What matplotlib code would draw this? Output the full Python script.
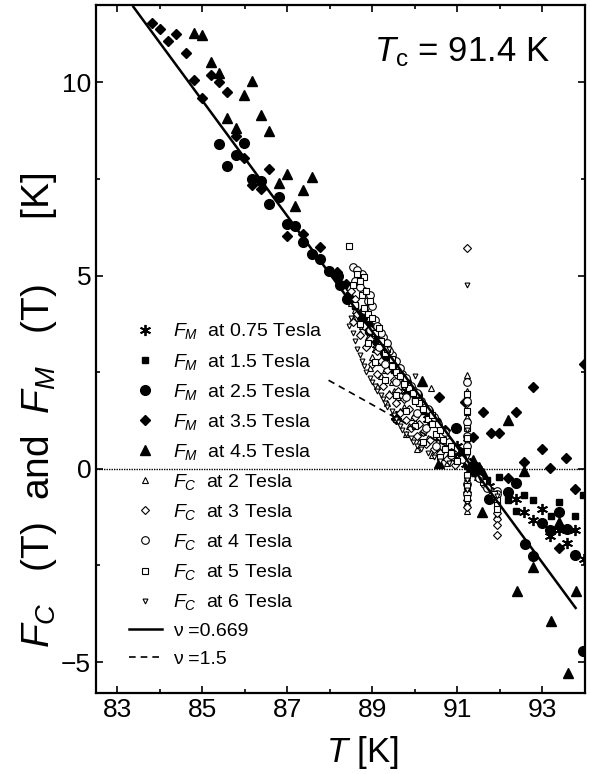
import matplotlib
matplotlib.use('Agg')
import matplotlib.pyplot as plt

plt.rcParams['font.family'] = ['Liberation Sans', 'DejaVu Sans']
plt.rcParams['mathtext.fontset'] = 'custom'
plt.rcParams['mathtext.rm'] = 'Liberation Sans'
plt.rcParams['mathtext.it'] = 'Liberation Sans:italic'

# F_M at 0.75 Tesla (stars)
fm075_T = [89.56, 90.93, 91.0, 91.2, 91.35, 91.55, 91.75, 89.1, 89.8, 90.3, 90.6,
           92.37, 92.57, 92.77, 92.98, 93.17, 93.38, 93.57, 93.77, 93.98]
fm075_F = [1.36, 0.33, 0.59, 0.12, -0.05, -0.25, -0.45, 3.1, 2.0, 1.3, 0.8,
           -0.78, -1.11, -1.32, -1.04, -1.75, -1.59, -1.92, -1.59, -2.34]

# F_M at 1.5 Tesla (squares)
fm15_T = [88.45, 88.9, 89.3, 89.75, 90.2, 90.57, 90.95, 91.3, 91.5, 91.7,
          88.6, 89.1, 89.5, 90.0, 90.4, 90.8, 91.1, 91.4,
          91.97, 92.18, 92.57, 92.38, 92.78, 93.38, 93.2, 93.77, 93.96]
fm15_F = [4.5, 3.6, 2.9, 2.2, 1.5, 0.81, 0.45, 0.05, -0.05, -0.3,
          4.2, 3.3, 2.55, 1.8, 1.2, 0.6, 0.25, -0.05,
          -0.22, -0.80, -0.67, -1.08, -0.80, -0.87, -1.23, -1.23, -0.67]

# F_M at 2.5 Tesla (circles)
fm25_T = [85.39, 85.98, 85.79, 85.59, 86.18, 86.39, 86.58, 86.8, 86.99, 87.19,
          87.38, 87.58, 87.77, 87.97, 88.19,
          88.4, 88.75, 89.1, 89.55, 90.05, 90.5, 90.96, 91.25, 91.45,
          88.25, 88.9, 89.3, 89.8, 90.3, 91.1, 91.5,
          91.75, 92.18, 92.37, 92.98, 93.17, 93.38, 93.57, 92.59, 92.78, 93.77, 93.96]
fm25_F = [8.41, 8.43, 8.11, 7.83, 7.49, 7.45, 6.85, 7.02, 6.33, 6.27,
          5.86, 5.56, 5.43, 5.11, 5.0,
          4.4, 3.9, 3.3, 2.6, 1.9, 1.2, 1.06, 0.1, -0.05,
          4.75, 3.7, 3.0, 2.25, 1.5, 0.4, -0.15,
          -0.78, -0.61, -0.38, -1.41, -1.59, -1.11, -1.55, -1.94, -2.26, -2.22, -4.72]

# F_M at 3.5 Tesla (diamonds)
fm35_T = [83.81, 84.0, 84.2, 84.39, 84.61, 84.8, 85.0, 85.2, 85.39, 85.59,
          85.79, 85.98, 86.58, 86.18, 86.39, 86.99, 87.38, 87.77,
          88.17, 88.38, 88.7, 89.2, 89.56, 90.57, 91.18, 91.37, 91.0, 91.3,
          88.5, 88.95, 89.45, 89.95, 90.35, 90.7, 91.45,
          92.78, 91.59, 92.37, 91.79, 91.98, 92.98, 93.56, 92.57, 93.17, 92.18,
          93.77, 93.38, 93.98]
fm35_F = [11.53, 11.39, 11.06, 11.24, 10.75, 10.06, 9.59, 10.19, 10.0, 9.74,
          8.62, 8.05, 7.75, 7.33, 7.23, 6.02, 6.07, 5.73,
          5.09, 4.79, 4.0, 3.2, 1.30, 1.85, 1.73, 0.82, 0.5, 0.15,
          4.4, 3.5, 2.6, 1.95, 1.35, 1.0, 0.05,
          2.11, 1.47, 1.47, 0.92, 0.92, 0.51, 0.28, 0.18, 0.01, -0.24,
          -0.52, -2.05, 2.72]

# F_M at 4.5 Tesla (triangles)
fm45_T = [84.81, 85.0, 85.2, 85.39, 86.18, 85.98, 85.59, 85.79, 86.39, 86.58,
          86.99, 86.8, 87.58, 87.38, 87.19,
          90.17, 90.57, 91.37, 91.3, 91.5, 91.45, 91.6,
          92.18, 92.57, 91.58, 93.38, 92.39, 92.78, 93.78, 93.2, 93.59]
fm45_F = [11.28, 11.22, 10.53, 10.25, 10.04, 9.66, 9.07, 8.82, 9.14, 8.73,
          7.63, 7.39, 7.56, 7.21, 6.80,
          2.26, 0.16, 0.23, 0.0, 0.05, -0.05, -0.1,
          1.25, -0.05, -1.12, -1.38, -3.15, -2.55, -3.15, -3.95, -5.28]

# F_C at 2 Tesla (open triangles)
fc2_T = [88.45, 88.5, 88.55, 88.7, 88.85, 89.0, 88.95, 89.2, 89.1, 89.4,
         89.35, 89.65, 89.55, 89.85, 89.8, 90.1, 90.05, 90.4, 90.38, 90.75,
         88.6, 88.75, 88.9, 89.05, 89.15, 89.3, 89.45, 89.5, 89.6, 89.75,
         89.95, 90.0, 90.2, 90.3, 90.5, 90.6, 90.9,
         91.22, 91.22, 91.22, 91.22, 91.22, 91.22, 91.22, 91.22, 91.22, 91.22,
         91.45, 91.8, 91.94, 91.94]
fc2_F = [4.7, 4.3, 3.9, 3.5, 3.2, 2.9, 2.6, 2.4, 2.15, 1.95,
         1.7, 1.5, 1.3, 1.1, 0.9, 0.7, 0.5, 0.35, 2.09, 0.15,
         4.1, 3.7, 3.4, 3.1, 2.75, 2.55, 2.25, 2.0, 1.85, 1.6,
         1.35, 1.2, 0.95, 0.8, 0.55, 0.45, 0.3,
         2.42, 1.48, 1.35, 0.9, -0.2, -1.08, 2.0, 0.55, -0.5, -0.85,
         -0.2, -0.6, -1.08, -1.2]

# F_C at 3 Tesla (open diamonds)
fc3_T = [88.6, 88.65, 88.8, 88.95, 89.1, 89.2, 89.35, 89.5, 89.6, 89.75,
         89.85, 90.0, 90.1, 90.2, 90.35, 90.45, 90.75,
         88.5, 88.55, 88.7, 88.85, 89.0, 89.1, 89.25, 89.4, 89.55, 89.65,
         89.8, 89.9, 90.05, 90.25, 90.6, 90.95,
         91.22, 91.22, 91.22, 91.22, 91.22, 91.22, 91.22,
         91.65, 91.9, 91.94, 91.94, 91.94, 91.94]
fc3_F = [4.4, 4.0, 3.7, 3.35, 3.05, 2.8, 2.55, 2.3, 2.0, 1.8,
         1.55, 1.35, 1.15, 0.95, 0.75, 0.5, 0.25,
         4.6, 3.8, 3.45, 3.15, 2.7, 2.45, 2.15, 1.9, 1.7, 1.45,
         1.25, 1.05, 0.85, 0.65, 0.4, 0.1,
         5.71, 0.75, -0.8, -1.0, 1.7, 0.2, -0.6,
         -0.45, -0.75, -1.3, -1.46, -1.72, -1.15]

# F_C at 4 Tesla (open circles)
fc4_T = [88.55, 88.75, 88.6, 88.8, 88.9, 88.8, 89.05, 88.95, 89.25, 89.15,
         89.45, 89.3, 89.7, 89.55, 89.95, 89.8, 90.2, 90.05, 90.4, 90.25,
         90.6, 90.5, 90.85,
         88.65, 88.7, 88.95, 89.0, 89.1, 89.2, 89.35, 89.4, 89.55, 89.65,
         89.8, 89.9, 90.05, 90.15, 90.3, 90.45, 90.55, 90.7, 90.8, 90.95, 91.1,
         91.22, 91.22, 91.22, 91.22, 91.22, 91.22, 91.22,
         91.5, 91.7, 91.94, 91.94]
fc4_F = [5.22, 5.05, 4.85, 4.6, 4.35, 4.1, 3.85, 3.6, 3.4, 3.15,
         2.95, 2.7, 2.45, 2.25, 2.05, 1.85, 1.65, 1.45, 1.25, 1.05,
         0.85, 0.6, 0.35,
         5.15, 4.7, 4.5, 4.2, 3.7, 3.5, 3.25, 3.05, 2.8, 2.6,
         2.35, 2.15, 1.95, 1.75, 1.55, 1.35, 1.15, 0.95, 0.7, 0.5, 0.25,
         2.24, 1.2, 0.6, -0.65, 1.75, 0.85, -0.4,
         -0.25, -0.5, -0.57, -0.65]

# F_C at 5 Tesla (open squares)
fc5_T = [88.44, 88.8, 88.55, 88.75, 88.6, 88.9, 88.7, 89.05, 88.9, 89.3,
         89.05, 89.55, 89.3, 89.85, 89.55, 90.1, 89.8, 90.3, 90.0, 90.5,
         90.2, 90.7, 90.6,
         88.65, 88.7, 88.85, 88.95, 88.8, 89.0, 89.15, 89.2, 89.35, 89.45,
         89.45, 89.65, 89.75, 89.95, 90.0, 90.2, 90.4, 90.4, 90.6, 90.65,
         90.85, 90.85, 91.0,
         91.22, 91.22, 91.22, 91.22, 91.22, 91.22, 91.22, 91.22,
         91.6, 91.85, 91.94, 91.94, 91.94]
fc5_F = [5.76, 4.95, 4.75, 4.5, 4.25, 4.0, 3.75, 3.5, 3.25, 3.0,
         2.75, 2.5, 2.3, 2.1, 1.9, 1.7, 1.5, 1.3, 1.1, 0.9,
         0.7, 0.5, 0.3,
         5.05, 4.85, 4.6, 4.35, 4.15, 3.9, 3.65, 3.3, 3.1, 2.85,
         2.65, 2.4, 2.2, 1.95, 1.75, 1.55, 1.4, 1.15, 1.0, 0.75,
         0.6, 0.4, 0.2,
         1.93, 1.05, 0.45, -0.45, 1.5, 0.8, -0.15, -0.75,
         -0.35, -0.65, -0.82, -0.95, -1.05]

# F_C at 6 Tesla (small open down-triangles)
fc6_T = [88.5, 88.55, 88.65, 88.75, 88.85, 89.0, 89.1, 89.25, 89.35, 89.5,
         89.6, 89.7, 89.9, 90.05, 90.3, 90.6, 89.4, 90.0,
         88.45, 88.6, 88.7, 88.8, 88.95, 89.05, 89.2, 89.3, 89.45, 89.55,
         89.65, 89.8, 89.95, 90.15, 90.45, 90.8,
         91.22, 91.22, 91.22, 91.22, 91.22,
         91.55, 91.94]
fc6_F = [3.9, 3.5, 3.1, 2.8, 2.5, 2.25, 2.0, 1.8, 1.6, 1.4,
         1.2, 1.0, 0.8, 0.6, 0.4, 0.2, 3.1, 2.4,
         3.7, 3.3, 2.95, 2.65, 2.35, 2.15, 1.9, 1.7, 1.5, 1.3,
         1.1, 0.9, 0.7, 0.5, 0.3, 0.15,
         4.75, 0.3, -0.3, 1.0, -0.55,
         -0.3, -0.7]

# fitted lines
fit0669_T = [83.38, 93.78]
fit0669_F = [11.95, -3.6]
fit15_T = [87.97, 91.3]
fit15_F = [2.29, 0.24]

fig = plt.figure(figsize=(5.9, 7.74), dpi=100)
ax = fig.add_axes([0.1627, 0.1047, 0.8288, 0.8889])

ax.axhline(0, color='k', lw=1.0, ls=(0, (1, 0.8)), zorder=1)

filled = dict(color='k', linestyle='none', zorder=3)
ax.plot(fm075_T, fm075_F, marker=(6, 2, 0), ms=8, mew=1.3, label='$F_M$  at 0.75 Tesla', **filled)
ax.plot(fm15_T, fm15_F, marker='s', ms=5, label='$F_M$  at 1.5 Tesla', **filled)
ax.plot(fm25_T, fm25_F, marker='o', ms=7, label='$F_M$  at 2.5 Tesla', **filled)
ax.plot(fm35_T, fm35_F, marker='D', ms=5, label='$F_M$  at 3.5 Tesla', **filled)
ax.plot(fm45_T, fm45_F, marker='^', ms=7.5, label='$F_M$  at 4.5 Tesla', **filled)

opened = dict(color='k', mfc='white', mew=0.8, linestyle='none', zorder=4)
ax.plot(fc2_T, fc2_F, marker='^', ms=5, label='$F_C$  at 2 Tesla', **opened)
ax.plot(fc3_T, fc3_F, marker='D', ms=4.5, label='$F_C$  at 3 Tesla', **opened)
ax.plot(fc4_T, fc4_F, marker='o', ms=5.5, label='$F_C$  at 4 Tesla', **opened)
ax.plot(fc5_T, fc5_F, marker='s', ms=5, label='$F_C$  at 5 Tesla', **opened)
ax.plot(fc6_T, fc6_F, marker='v', ms=3.5, label='$F_C$  at 6 Tesla', **opened)

ax.plot(fit0669_T, fit0669_F, color='k', lw=1.8, zorder=5, label='ν =0.669')
ax.plot(fit15_T, fit15_F, color='k', lw=1.2, ls=(0, (4, 3)), zorder=5, label='ν =1.5')

ax.set_xlim(82.5, 94)
ax.set_ylim(-5.8, 12)
ax.set_xticks([83, 85, 87, 89, 91, 93])
ax.set_xticks([84, 86, 88, 90, 92], minor=True)
ax.set_yticks([-5, 0, 5, 10])
ax.set_yticks([-2.5, 2.5, 7.5], minor=True)
ax.tick_params(which='both', direction='in', top=True, right=True, width=1.2, labelsize=19)
ax.tick_params(which='major', length=5)
ax.tick_params(which='minor', length=3)
for s in ax.spines.values():
    s.set_linewidth(1.6)

ax.set_xlabel('$T$ [K]', fontsize=25)
ax.xaxis.set_label_coords(0.545, -0.06)
ax.xaxis.label.set_va('top')
ax.set_ylabel('$F_C$   (T)  and  $F_M$   (T)      [K]', fontsize=28)
ax.yaxis.set_label_coords(-0.075, 0.411)

ax.text(0.928, 0.932, '$T_\\mathrm{c}$ = 91.4 K', transform=ax.transAxes,
        ha='right', va='center', fontsize=25)

ax.legend(loc='upper left', bbox_to_anchor=(0.067, 0.540), frameon=False,
          fontsize=14, labelspacing=0.52, handlelength=1.7, handletextpad=0.6,
          borderpad=0, borderaxespad=0, numpoints=1)

fig.savefig('out.png', dpi=100)
